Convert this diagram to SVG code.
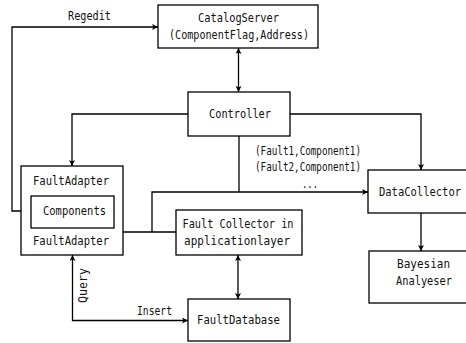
<svg xmlns="http://www.w3.org/2000/svg" width="466" height="343" viewBox="0 0 466 343">
<style>
  rect.box { fill: #fff; stroke: #000; stroke-width: 1.3; }
  text { font-family: "DejaVu Sans Mono", "Liberation Mono", monospace; font-size: 12px; fill: #111; }
  .c { text-anchor: middle; }
  .ln { fill: none; stroke: #000; stroke-width: 1.3; }
  .a { marker-end: url(#ah); }
  .aa { marker-start: url(#ah); marker-end: url(#ah); }
</style>
<defs>
  <marker id="ah" markerUnits="userSpaceOnUse" markerWidth="7" markerHeight="7" refX="6" refY="3" orient="auto-start-reverse">
    <path d="M0,0 L6,3 L0,6 L1.5,3 z" fill="#000"/>
  </marker>
</defs>
<rect width="466" height="343" fill="#fff"/>
<g id="connectors">
  <path class="ln a" d="M31,211 H12 V27 H158"/>
  <path class="ln" d="M21,208 H31"/>
  <path class="ln" d="M114,209 H123"/>
  <path class="ln aa" d="M238.5,48 V92"/>
  <path class="ln a" d="M188,114 H72 V166"/>
  <path class="ln a" d="M290,114 H421 V170"/>
  <path class="ln" d="M239,136 V192"/>
  <path class="ln a" d="M152,232 V192 H368"/>
  <path class="ln" d="M123,232 H176"/>
  <path class="ln aa" d="M238,255 V299"/>
  <path class="ln aa" d="M72.5,255 V320.5 H188"/>
  <path class="ln a" d="M421,213 V251"/>
  <text x="89.5" y="20" class="c" textLength="43" lengthAdjust="spacingAndGlyphs">Regedit</text>
  <text x="255" y="155" textLength="106" lengthAdjust="spacingAndGlyphs">(Fault1,Component1)</text>
  <text x="255" y="171" textLength="106" lengthAdjust="spacingAndGlyphs">(Fault2,Component1)</text>
  <text x="302" y="188" textLength="16" lengthAdjust="spacingAndGlyphs">...</text>
  <text x="137" y="315" textLength="35" lengthAdjust="spacingAndGlyphs">Insert</text>
  <text transform="translate(86.5,285.5) rotate(-90)" class="c" textLength="35" lengthAdjust="spacingAndGlyphs">Query</text>
</g>
<g id="catalogserver">
  <rect class="box" x="158" y="5" width="160" height="43"/>
  <text x="238.5" y="22" class="c" textLength="81" lengthAdjust="spacingAndGlyphs">CatalogServer</text>
  <text x="239" y="39" class="c" textLength="140" lengthAdjust="spacingAndGlyphs">(ComponentFlag,Address)</text>
</g>
<g id="controller">
  <rect class="box" x="188" y="92" width="102" height="44"/>
  <text x="240" y="118" class="c" textLength="62" lengthAdjust="spacingAndGlyphs">Controller</text>
</g>
<g id="faultadapter">
  <rect class="box" x="21" y="166" width="102" height="89"/>
  <text x="71" y="185" class="c" textLength="76" lengthAdjust="spacingAndGlyphs">FaultAdapter</text>
  <text x="71" y="245" class="c" textLength="76" lengthAdjust="spacingAndGlyphs">FaultAdapter</text>
</g>
<g id="components">
  <rect class="box" x="31" y="196" width="83" height="32"/>
  <text x="74.5" y="215" class="c" textLength="63" lengthAdjust="spacingAndGlyphs">Components</text>
</g>
<g id="faultcollector">
  <rect class="box" x="176" y="210" width="126" height="45"/>
  <text x="238" y="228" class="c" textLength="111" lengthAdjust="spacingAndGlyphs">Fault Collector in</text>
  <text x="237" y="245" class="c" textLength="106" lengthAdjust="spacingAndGlyphs">applicationlayer</text>
</g>
<g id="faultdatabase">
  <rect class="box" x="188" y="299" width="102" height="42"/>
  <text x="238.5" y="324" class="c" textLength="83" lengthAdjust="spacingAndGlyphs">FaultDatabase</text>
</g>
<g id="datacollector">
  <rect class="box" x="368" y="170" width="110" height="43"/>
  <text x="420" y="196" class="c" textLength="82" lengthAdjust="spacingAndGlyphs">DataCollector</text>
</g>
<g id="bayesian">
  <rect class="box" x="369" y="251" width="110" height="52"/>
  <text x="423.5" y="268" class="c" textLength="53" lengthAdjust="spacingAndGlyphs">Bayesian</text>
  <text x="424" y="285" class="c" textLength="56" lengthAdjust="spacingAndGlyphs">Analyeser</text>
</g>
</svg>
